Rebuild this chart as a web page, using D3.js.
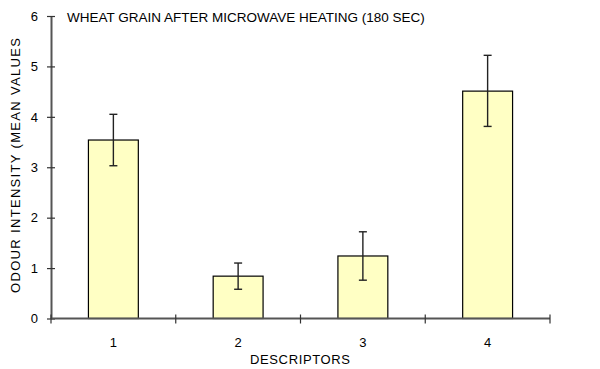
<!DOCTYPE html>
<html>
<head>
<title>Wheat grain odour</title>
<script src="https://cdnjs.cloudflare.com/ajax/libs/d3/7.8.5/d3.min.js"></script>
<style>
  body { margin: 0; background: #fff; }
  text { font-family: "Liberation Sans", Arial, sans-serif; fill: #000; }
</style>
</head>
<body>
<script>
// chart data
var descriptors = ["1", "2", "3", "4"];
var meanValues = [3.54, 0.84, 1.24, 4.51];
var errLow = [3.03, 0.58, 0.76, 3.81];
var errHigh = [4.05, 1.10, 1.72, 5.22];
var yTicks = [0, 1, 2, 3, 4, 5, 6];

var width = 600, height = 369;
var plotL = 51, plotR = 550, plotT = 16, plotB = 318.5;

var svg = d3.select("body").append("svg")
  .attr("width", width)
  .attr("height", height);

var x = d3.scaleBand().domain(descriptors).range([plotL, plotR]).paddingInner(0).paddingOuter(0);
var y = d3.scaleLinear().domain([0, 6]).range([plotB, plotT]);
var barW = x.bandwidth() * 0.4;

// bars
svg.selectAll("rect.bar")
  .data(meanValues)
  .enter().append("rect")
  .attr("class", "bar")
  .attr("x", function(d, i) { return x(descriptors[i]) + (x.bandwidth() - barW) / 2; })
  .attr("y", function(d) { return y(d); })
  .attr("width", barW)
  .attr("height", function(d) { return y(0) - y(d); })
  .attr("fill", "#ffffc4")
  .attr("stroke", "#000")
  .attr("stroke-width", 1.2);

// error bars
var eb = svg.selectAll("g.err")
  .data(meanValues)
  .enter().append("g")
  .attr("class", "err")
  .attr("stroke", "#222")
  .attr("stroke-width", 1.4);
eb.append("line")
  .attr("x1", function(d, i) { return x(descriptors[i]) + x.bandwidth() / 2; })
  .attr("x2", function(d, i) { return x(descriptors[i]) + x.bandwidth() / 2; })
  .attr("y1", function(d, i) { return y(errLow[i]); })
  .attr("y2", function(d, i) { return y(errHigh[i]); });
[errLow, errHigh].forEach(function(arr) {
  eb.append("line")
    .attr("x1", function(d, i) { return x(descriptors[i]) + x.bandwidth() / 2 - 4; })
    .attr("x2", function(d, i) { return x(descriptors[i]) + x.bandwidth() / 2 + 4; })
    .attr("y1", function(d, i) { return y(arr[i]); })
    .attr("y2", function(d, i) { return y(arr[i]); });
});

// y axis
var yAxis = d3.axisLeft(y).tickValues(yTicks).tickFormat(d3.format("d"))
  .tickSizeInner(4).tickSizeOuter(0).tickPadding(9);
var gy = svg.append("g").attr("transform", "translate(" + plotL + ",0)").call(yAxis);
gy.select(".domain").attr("stroke", "#555").attr("stroke-width", 2);
gy.selectAll(".tick line").attr("x2", 4).attr("x1", -4).attr("stroke", "#333").attr("stroke-width", 1.2);
gy.selectAll(".tick text").attr("font-size", 13).attr("font-family", "Liberation Sans, Arial, sans-serif").attr("fill", "#000");

// x axis: ticks at band boundaries
var gx = svg.append("g").attr("transform", "translate(0," + plotB + ")");
gx.append("line").attr("x1", plotL).attr("x2", plotR).attr("stroke", "#555").attr("stroke-width", 2);
var bounds = descriptors.map(function(d) { return x(d); }).concat([plotR]);
gx.selectAll("line.tk").data(bounds).enter().append("line")
  .attr("class", "tk")
  .attr("x1", function(d) { return d; }).attr("x2", function(d) { return d; })
  .attr("y1", -4).attr("y2", 5)
  .attr("stroke", "#333").attr("stroke-width", 1.2);
gx.selectAll("text").data(descriptors).enter().append("text")
  .attr("x", function(d) { return x(d) + x.bandwidth() / 2; })
  .attr("y", 28)
  .attr("text-anchor", "middle")
  .attr("font-size", 13)
  .text(function(d) { return d; });

// titles
svg.append("text").attr("x", 67).attr("y", 22).attr("font-size", 13.5).text("WHEAT GRAIN AFTER MICROWAVE HEATING (180 SEC)");
svg.append("text").attr("x", 300).attr("y", 364).attr("text-anchor", "middle")
  .attr("font-size", 13).attr("textLength", 100).attr("lengthAdjust", "spacing").text("DESCRIPTORS");
svg.append("text").attr("transform", "translate(20,165.5) rotate(-90)")
  .attr("text-anchor", "middle").attr("font-size", 13)
  .attr("textLength", 255).attr("lengthAdjust", "spacing")
  .text("ODOUR INTENSITY (MEAN VALUES");
</script>
</body>
</html>
